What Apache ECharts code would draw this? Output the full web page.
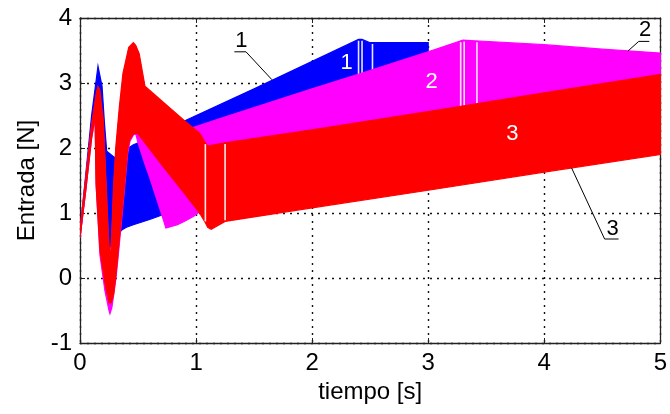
<!DOCTYPE html>
<html><head><meta charset="utf-8">
<script src="https://cdn.jsdelivr.net/npm/echarts/dist/echarts.min.js"></script>
<style>html,body{margin:0;padding:0;background:#fff}#c{width:670px;height:414px}</style>
</head><body><div id="c"></div>
<script>
// ---- data ----
const xTicks = [0, 1, 2, 3, 4, 5];
const yTicks = [-1, 0, 1, 2, 3, 4];

// series 1 (blue): upper / lower envelope of the chattering signal
const blueHiT = [0, 0.05, 0.10, 0.155, 0.19, 0.21, 0.23, 0.30, 0.36, 0.40, 0.46, 0.60, 0.88, 1.50, 2.40, 2.43, 2.50, 3.00];
const blueHi  = [0.72, 1.60, 2.50, 3.26, 2.95, 2.40, 1.95, 1.85, 1.90, 1.98, 2.05, 2.15, 2.40, 2.91, 3.67, 3.67, 3.62, 3.62];
const blueLoT = [0, 0.05, 0.10, 0.14, 0.17, 0.19, 0.21, 0.25, 0.30, 0.36, 0.40, 0.46, 0.60, 0.88, 1.50, 2.40, 3.00];
const blueLo  = [0.62, 1.40, 2.30, 2.80, 2.30, 1.20, 0.60, 0.45, 0.60, 0.74, 0.78, 0.82, 0.90, 1.08, 1.50, 2.30, 2.70];
const blueGaps = [2.40, 2.43, 2.52];

// series 2 (magenta)
const magHiT = [0, 0.05, 0.10, 0.14, 0.155, 0.17, 0.20, 0.225, 0.245, 0.258, 0.275, 0.29, 0.31, 0.34, 0.37, 0.42, 0.46, 0.48, 0.50, 0.56, 0.60, 0.70, 0.74, 0.84, 0.91, 0.98, 1.20, 2.00, 2.39, 3.00, 3.30, 3.40, 4.00, 4.50, 5.00];
const magHi  = [0.72, 1.55, 2.35, 2.80, 2.90, 2.80, 2.35, 1.35, 0.55, 0.15, 0.65, 1.35, 1.95, 2.55, 3.05, 3.50, 3.60, 3.55, 3.45, 2.90, 2.80, 2.55, 2.47, 2.35, 2.28, 2.32, 2.45, 2.91, 3.13, 3.48, 3.66, 3.65, 3.59, 3.52, 3.46];
const magLoT = [0, 0.05, 0.10, 0.13, 0.14, 0.172, 0.215, 0.25, 0.258, 0.275, 0.31, 0.33, 0.385, 0.41, 0.43, 0.46, 0.48, 0.50, 0.56, 0.60, 0.70, 0.74, 0.84, 0.91, 0.98, 1.20, 2.00, 2.39, 3.00, 3.30, 3.40, 4.00, 4.50, 5.00];
const magLo  = [0.62, 1.35, 2.15, 2.45, 1.40, 0.35, -0.20, -0.50, -0.55, -0.45, 0.00, 0.35, 1.40, 1.90, 2.10, 2.20, 2.22, 2.08, 1.75, 1.55, 1.00, 0.77, 0.82, 0.88, 0.95, 1.25, 1.60, 1.80, 2.10, 2.25, 2.30, 2.50, 2.65, 2.80];
const magGaps = [3.28, 3.31, 3.42];

// series 3 (red)
const redHiT = [0, 0.05, 0.10, 0.14, 0.155, 0.17, 0.20, 0.225, 0.245, 0.26, 0.275, 0.29, 0.31, 0.34, 0.37, 0.42, 0.46, 0.48, 0.51, 0.54, 0.56, 0.70, 0.90, 1.03, 1.08, 1.10, 1.13, 1.25, 2.00, 3.00, 4.00, 5.00];
const redHi  = [0.72, 1.55, 2.35, 2.85, 2.95, 2.90, 2.45, 1.45, 0.65, 0.25, 0.75, 1.45, 2.05, 2.65, 3.15, 3.55, 3.62, 3.58, 3.45, 3.15, 2.95, 2.73, 2.42, 2.23, 2.08, 2.03, 2.04, 2.08, 2.28, 2.56, 2.85, 3.13];
const redLoT = [0, 0.05, 0.10, 0.13, 0.138, 0.172, 0.215, 0.25, 0.27, 0.29, 0.31, 0.33, 0.385, 0.41, 0.428, 0.46, 0.50, 0.56, 0.70, 0.90, 1.03, 1.08, 1.10, 1.13, 1.25, 2.00, 3.00, 4.00, 5.00];
const redLo  = [0.62, 1.35, 2.15, 2.50, 1.46, 0.43, -0.08, -0.38, -0.38, -0.25, 0.05, 0.43, 1.46, 1.97, 2.13, 2.22, 2.22, 2.08, 1.75, 1.30, 1.00, 0.85, 0.78, 0.75, 0.87, 1.08, 1.35, 1.63, 1.90];
const redGaps = [1.08, 1.25];

// annotations (data units)
const tagText  = ['1', '2', '3'];
const tagPos   = [[1.39, 3.64], [4.87, 3.82], [4.59, 0.76]];
const tagLines = [
  [[1.33, 3.48], [1.43, 3.48], [1.654, 3.05]],
  [[4.905, 3.64], [4.814, 3.64], [4.72, 3.49]],
  [[4.235, 1.695], [4.52, 0.60], [4.64, 0.60]]
];
const inText = ['1', '2', '3'];
const inPos  = [[2.297, 3.31], [3.03, 3.02], [3.725, 2.21]];

// ---- drawing ----
const FONT = 'Liberation Sans';
function interp(ts, vs, t) {
  for (let i = 1; i < ts.length; i++) {
    if (t <= ts[i]) { const f = (t - ts[i-1]) / (ts[i] - ts[i-1]); return vs[i-1] + f * (vs[i] - vs[i-1]); }
  }
  return vs[vs.length - 1];
}
function band(hiT, hi, loT, lo, gaps, color) {
  return {
    type: 'custom', coordinateSystem: 'cartesian2d', clip: true, silent: true,
    data: [[hiT[0], lo[0]]],
    renderItem: function (params, api) {
      const pts = [];
      for (let i = 0; i < hiT.length; i++) pts.push(api.coord([hiT[i], hi[i]]));
      for (let i = loT.length - 1; i >= 0; i--) pts.push(api.coord([loT[i], lo[i]]));
      const children = [{ type: 'polygon', shape: { points: pts }, style: { fill: color, stroke: color, lineWidth: 1.2 } }];
      gaps.forEach(function (g) {
        const a = api.coord([g, interp(hiT, hi, g) - 0.02]);
        const b = api.coord([g, interp(loT, lo, g) + 0.02]);
        children.push({ type: 'line', shape: { x1: a[0], y1: a[1], x2: b[0], y2: b[1] }, style: { stroke: '#fff', lineWidth: 1.6, opacity: 0.9 } });
      });
      return { type: 'group', children: children };
    }
  };
}
const annot = {
  type: 'custom', coordinateSystem: 'cartesian2d', clip: false, silent: true, z: 5,
  data: [[0, 0]],
  renderItem: function (params, api) {
    const ch = [];
    tagLines.forEach(function (l) {
      ch.push({ type: 'polyline', shape: { points: l.map(function (p) { return api.coord(p); }) }, style: { stroke: '#000', lineWidth: 1, fill: null } });
    });
    tagText.forEach(function (t, i) {
      const p = api.coord(tagPos[i]);
      ch.push({ type: 'text', style: { text: t, x: p[0], y: p[1], fill: '#000', fontSize: 22, fontFamily: FONT, align: 'center', verticalAlign: 'middle', textAlign: 'center', textVerticalAlign: 'middle' } });
    });
    inText.forEach(function (t, i) {
      const p = api.coord(inPos[i]);
      ch.push({ type: 'text', style: { text: t, x: p[0], y: p[1], fill: '#fff', fontSize: 22, fontFamily: FONT, align: 'center', verticalAlign: 'middle', textAlign: 'center', textVerticalAlign: 'middle' } });
    });
    return { type: 'group', children: ch };
  }
};

const axisLine = { show: true, onZero: false, lineStyle: { color: '#222', width: 1.3 } };
const grid = { type: [2, 5], color: '#111', width: 1.4 };
const lbl = { color: '#000', fontSize: 24, fontFamily: FONT };

const chart = echarts.init(document.getElementById('c'), null, { renderer: 'canvas' });
chart.setOption({
  animation: false,
  backgroundColor: '#fff',
  grid: { left: 80, right: 6, top: 18, bottom: 71, show: false },
  xAxis: [
    { type: 'value', min: xTicks[0], max: xTicks[xTicks.length - 1], interval: 1,
      name: 'tiempo [s]', nameLocation: 'middle', nameGap: 37, nameTextStyle: lbl,
      axisLine: axisLine, axisTick: { inside: true, length: 5, lineStyle: { color: '#222' } },
      axisLabel: Object.assign({ margin: 8 }, lbl), splitLine: { show: true, lineStyle: grid } },
    { type: 'value', position: 'top', min: 0, max: 5, interval: 1,
      axisLine: axisLine, axisTick: { inside: true, length: 5, lineStyle: { color: '#222' } },
      axisLabel: { show: false }, splitLine: { show: false } }
  ],
  yAxis: [
    { type: 'value', min: yTicks[0], max: yTicks[yTicks.length - 1], interval: 1,
      name: 'Entrada [N]', nameLocation: 'middle', nameGap: 38, nameTextStyle: lbl,
      axisLine: axisLine, axisTick: { inside: true, length: 5, lineStyle: { color: '#222' } },
      axisLabel: Object.assign({ margin: 8 }, lbl), splitLine: { show: true, lineStyle: grid } },
    { type: 'value', position: 'right', min: -1, max: 4, interval: 1,
      axisLine: axisLine, axisTick: { inside: true, length: 5, lineStyle: { color: '#222' } },
      axisLabel: { show: false }, splitLine: { show: false } }
  ],
  series: [
    band(blueHiT, blueHi, blueLoT, blueLo, blueGaps, '#0000ff'),
    band(magHiT, magHi, magLoT, magLo, magGaps, '#ff00ff'),
    band(redHiT, redHi, redLoT, redLo, redGaps, '#ff0000'),
    annot
  ]
});
</script>
</body></html>
